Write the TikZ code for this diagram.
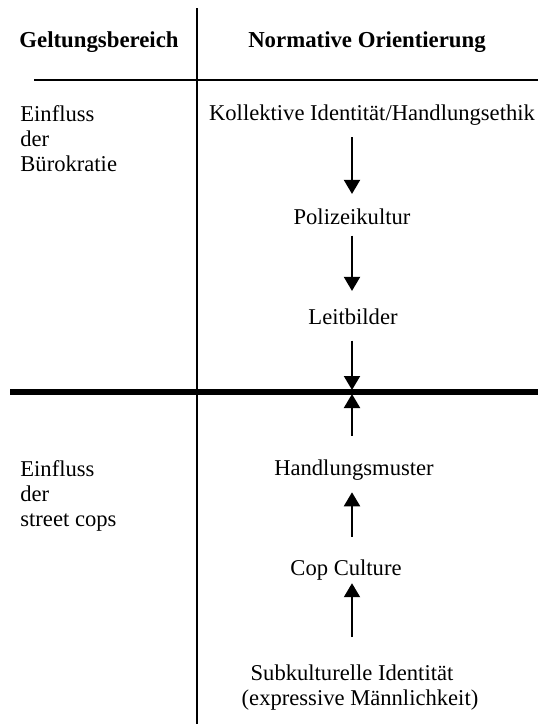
\documentclass[tikz,border=0pt]{standalone}
\usepackage{fontspec}
\setmainfont{Liberation Serif}
\usetikzlibrary{arrows.meta}

\begin{document}
\begin{tikzpicture}[x=0.5pt, y=-0.5pt,
    every node/.style={font=\fontsize{11.3}{12.5}\selectfont, inner sep=0pt},
    kopf/.style={font=\fontsize{11.4}{12.5}\selectfont\bfseries, anchor=base},
    eintrag/.style={anchor=base},
    bereich/.style={anchor=north west, align=left},
    pfeil/.style={-{Triangle[width=8pt, length=7pt]}, line width=1pt},
    linie/.style={line width=1.4pt},
    trenner/.style={line width=2.6pt}]
    \useasboundingbox (0, 0) rectangle (538, 724);

    % Tabellenlinien
    \draw[linie] (197, 8) -- (197, 724);
    \draw[linie] (34, 80) -- (538, 80);
    \draw[trenner] (10, 392) -- (538, 392);

    % Kopfzeile
    \node[kopf] (geltung) at (99, 47) {Geltungsbereich};
    \node[kopf] (norm) at (367, 47) {Normative Orientierung};

    % Geltungsbereich
    \node[bereich] (buero) at (20, 105) {Einfluss\\der\\Bürokratie};
    \node[bereich] (street) at (20, 460) {Einfluss\\der\\street cops};

    % Normative Orientierung
    \node[eintrag] (koll) at (372, 120) {Kollektive Identität/Handlungsethik};
    \node[eintrag] (pol) at (352, 224) {Polizeikultur};
    \node[eintrag] (leit) at (353, 324) {Leitbilder};
    \node[eintrag] (handl) at (354, 475) {Handlungsmuster};
    \node[eintrag] (cop) at (346, 575) {Cop Culture};
    \node[anchor=north, align=center] (subk) at (352, 664) {Subkulturelle Identität\\\hspace*{8pt}(expressive Männlichkeit)};

    % Pfeile
    \coordinate (achse) at (352, 0);
    \coordinate (oben) at (352, 390);
    \coordinate (unten) at (352, 394);
    \draw[pfeil, shorten <=6pt, shorten >=7pt] (achse |- koll.south) -- (achse |- pol.north);
    \draw[pfeil, shorten <=5.5pt, shorten >=8.5pt] (achse |- pol.south) -- (achse |- leit.north);
    \draw[pfeil, shorten <=8pt] (achse |- leit.south) -- (oben);
    \draw[pfeil, shorten <=11.5pt] (achse |- handl.north) -- (unten);
    \draw[pfeil, shorten <=11pt, shorten >=6pt] (achse |- cop.north) -- (achse |- handl.south);
    \draw[pfeil, shorten <=13.5pt, shorten >=1.5pt] (achse |- subk.north) -- (achse |- cop.south);
\end{tikzpicture}
\end{document}
